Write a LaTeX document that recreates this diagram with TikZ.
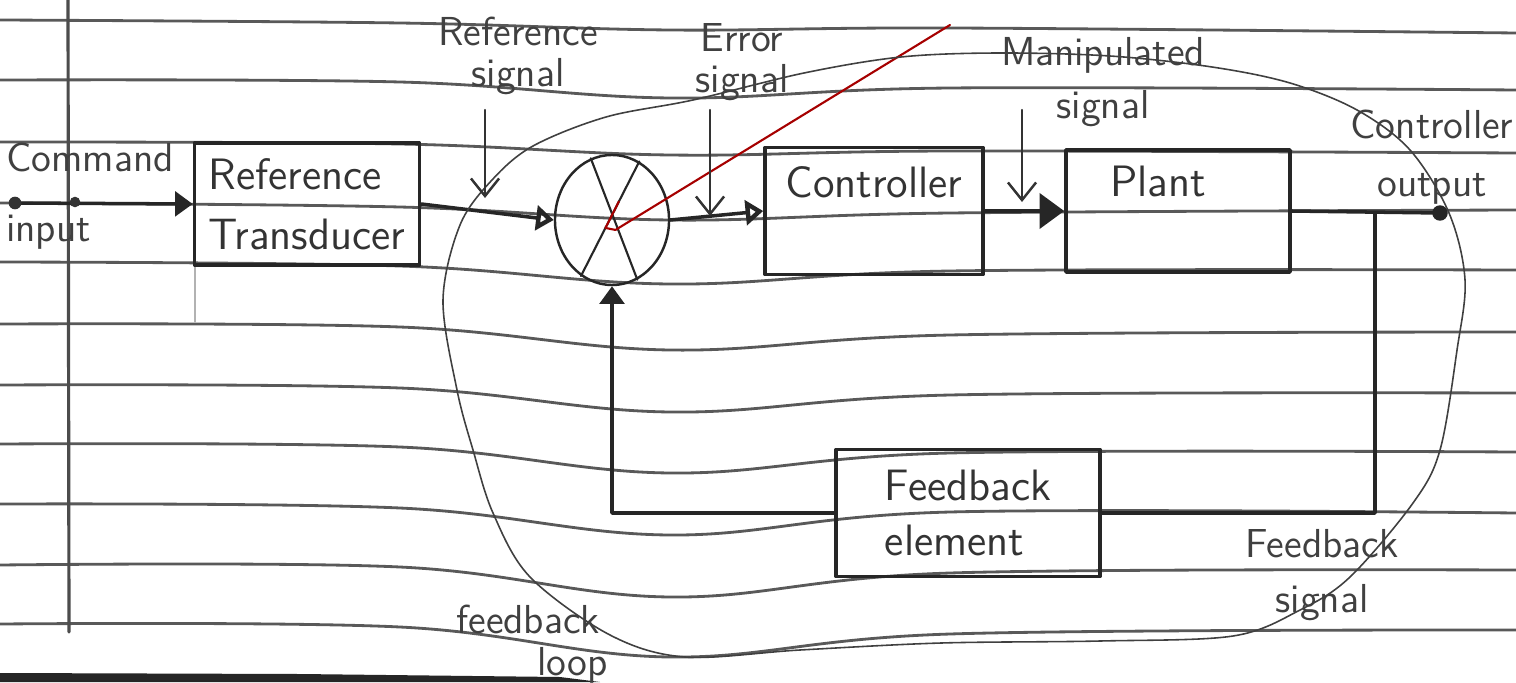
\documentclass[tikz,border=0pt]{standalone}
\usetikzlibrary{arrows.meta,positioning,shapes.geometric,calc}
\begin{document}
\begin{tikzpicture}[x=.01cm,y=-.01cm,line cap=round,line join=round,
  ink/.style={draw=black!85,line width=1pt},
  rule/.style={draw=black!65,line width=.8pt},
  loopline/.style={draw=black!75,line width=.45pt},
  redink/.style={draw=red!65!black,line width=.6pt},
  block/.style={ink,rectangle,inner sep=0pt,align=left,text=black!80,
    font=\sffamily\fontsize{12.5}{14}\selectfont},
  txt/.style={inner sep=0pt,text=black!80,font=\sffamily\fontsize{12.5}{14}\selectfont},
  lbl/.style={inner sep=0pt,align=center,text=black!75,font=\sffamily\fontsize{11.5}{12}\selectfont},
  fwd/.style={ink,-{Triangle[length=5pt,width=7pt]}},
  fwdo/.style={ink,-{Triangle[open,length=5pt,width=7pt,line width=1.3pt]}},
  ptr/.style={draw=black!80,line width=.7pt,-{Straight Barb[length=5pt,width=8pt]}}]
\useasboundingbox (0,0) rectangle (1516,682);
\fill[white] (0,0) rectangle (1516,682);
% ruled paper
\foreach \a/\b/\c/\d/\e in {20/23/30/28/33,80/82/98/88/90,142/144/155/151/153,
  203/207/220/213/210,262/266/284/271/270,324/327/350/335/332,385/388/412/395/393,
  444/447/473/453/452,504/508/535/512/513,565/567/597/573/570,624/627/657/634/630}
  \draw[rule] plot[smooth,tension=.6] coordinates {(0,\a) (400,\b) (670,\c) (950,\d) (1516,\e)};
\draw[draw=black!70,line width=.9pt] (68,0) -- (69,632);
\draw[draw=black!30,line width=.5pt] (195,265) -- (195,322);
\fill[black!85] (0,673) -- (300,674) -- (560,677) -- (600,682) -- (0,682) -- cycle;
% blocks
\node[block,minimum width=2.25cm,minimum height=1.22cm] (reft) at (307,204) {Reference\\[3pt]Transducer};
\node[ink,line width=.7pt,ellipse,minimum width=1.14cm,minimum height=1.3cm,inner sep=0pt] (sum) at (612,220) {};
\node[block,minimum width=2.18cm,minimum height=1.27cm] (ctrl) at (874,211) {};
\node[txt,below=.2cm of ctrl.north] {Controller};
\node[block,minimum width=2.24cm,minimum height=1.22cm] (plant) at (1178,211) {};
\node[txt,below=.17cm of plant.north,xshift=-.2cm] {Plant};
\node[block,minimum width=2.64cm,minimum height=1.27cm] (fbe) at (968,513) {Feedback\\[1.5pt]element};
\draw[ink,line width=.6pt] (sum.109) -- (sum.-67);
\draw[ink,line width=.6pt] (sum.65) -- (sum.-119);
% signal path
\coordinate (cmd) at (15,203);
\coordinate (out) at (1440,213);
\coordinate (tap) at (1375,213);
\coordinate (redtip) at (950,25);
\draw[fwd] (cmd) -- (reft.west);
\fill[black!80] (cmd) circle (1.8pt) (75,202) circle (1.5pt);
\draw[fwdo] (reft.east) -- (sum.west);
\draw[fwdo] (sum.east) -- (ctrl.west);
\draw[ink,-{Triangle[length=7pt,width=10pt]}] (ctrl.east) -- (plant.west);
\draw[ink] (plant.east) -- (out);
\fill[black!85] (out) circle (2.2pt);
\draw[ink] (tap) |- (fbe.east);
\draw[fwd] (fbe.west) -| (sum.south);
\draw[redink] ($(sum.65)!.35!(sum.-119)$) -- ($(sum.65)!.58!(sum.-119)$) -- ++(10,2) -- (redtip);
% loop
\draw[loopline] plot[smooth cycle,tension=.55] coordinates {(443,300) (460,225) (492,180)
  (533,146) (606,117) (693,100) (804,73) (901,57) (998,53) (1110,56) (1212,67) (1290,83)
  (1357,110) (1410,150) (1449,213) (1465,280) (1457,350) (1440,450) (1413,503) (1350,577)
  (1300,610) (1233,636) (1100,641) (941,643) (800,650) (685,657) (610,635) (530,577)
  (493,513) (473,450) (457,390)};
% labels
\node[lbl,align=left] (cmdlbl) at (90,196) {Command\\[8pt]input};
\node[lbl] (refsig) at (518,56) {Reference\\[-.5pt]signal};
\node[lbl] (errsig) at (742,62) {Error\\[-.5pt]signal};
\node[lbl] (mansig) at (1103,82) {Manipulated\\[3pt]signal};
\node[lbl] (outlbl) at (1432,157) {Controller\\[4.5pt]output};
\node[lbl] (fbsig) at (1322,575) {Feedback\\[3.5pt]signal};
\node[lbl,align=left] (looplbl) at (532,644) {feedback\\\hspace*{23pt}loop};
\coordinate (refpt) at (485,198);
\coordinate (errpt) at (710,216);
\coordinate (manpt) at (1022,202);
\draw[ptr] (485,110) -- (refpt);
\draw[ptr] (710,110) -- (errpt);
\draw[ptr] (1022,110) -- (manpt);
\end{tikzpicture}
\end{document}
